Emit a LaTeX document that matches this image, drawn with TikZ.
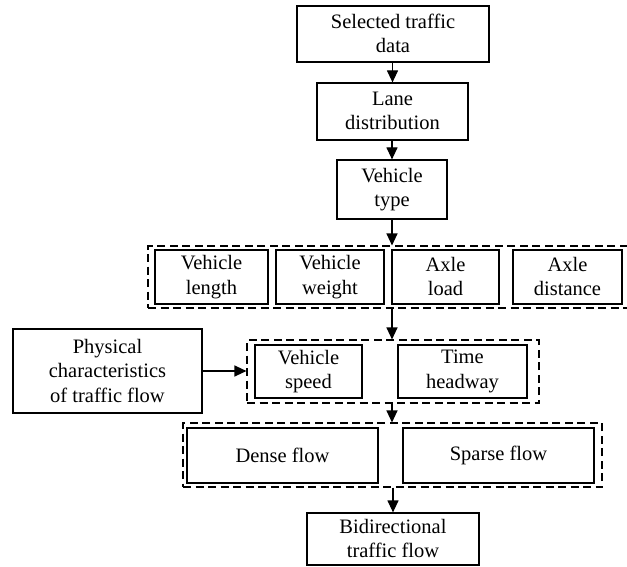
\documentclass[tikz,border=0pt]{standalone}
\usepackage{fontspec}
\setmainfont{Liberation Serif}
\usetikzlibrary{arrows.meta}
\newcommand\mytopstrut{\rule{0pt}{14pt}}
\newcommand\mybotstrut{\rule[-1pt]{0pt}{1pt}}
\tikzset{
  box/.style={draw, line width=1.2pt, rectangle, inner sep=0pt, align=center,
    font=\fontsize{20.5}{24.5}\selectfont,
    execute at begin node=\mytopstrut, execute at end node=\mybotstrut},
  dbox/.style={draw, line width=1.1pt, dash pattern=on 8pt off 4.5pt, rectangle, inner sep=0pt},
  arr/.style={line width=1.2pt, -{Triangle[length=12pt,width=11pt]}}
}
\begin{document}
\begin{tikzpicture}[x=1pt,y=-1pt]
\clip (0,0) rectangle (627,567);
\fill[white] (0,0) rectangle (627,567);
% top chain
\node[box, minimum width=192pt, minimum height=56pt] (b1) at (393,34) {Selected traffic\\data};
\node[box, minimum width=151pt, minimum height=57pt] (b2) at (392.5,111.5) {Lane\\distribution};
\node[box, minimum width=110pt, minimum height=59pt] (b3) at (392,189.5) {Vehicle\\type};
% row 1
\node[dbox, minimum width=490pt, minimum height=62pt] (g1) at (393,277) {};
\node[box, minimum width=113pt, minimum height=54pt] (vl) at (211.5,277) {Vehicle\\length};
\node[box, minimum width=108pt, minimum height=54pt] (vw) at (330,277) {Vehicle\\weight};
\node[box, minimum width=107pt, minimum height=54pt] (al) at (445.5,277) {Axle\\load};
\node[box, minimum width=109pt, minimum height=54pt] (ad) at (567.5,277) {Axle\\distance};
% row 2
\node[box, minimum width=189pt, minimum height=84pt] (ph) at (107.5,371) {Physical\\characteristics\\of traffic flow};
\node[dbox, minimum width=292pt, minimum height=63pt] (g2) at (393,371.5) {};
\node[box, minimum width=107pt, minimum height=53pt] (vs) at (308.5,371.5) {Vehicle\\speed};
\node[box, minimum width=129pt, minimum height=53pt] (th) at (462.5,371.5) {Time\\headway};
% row 3
\node[dbox, minimum width=419pt, minimum height=64pt] (g3) at (392.5,455) {};
\node[box, minimum width=191pt, minimum height=55pt] (df) at (282.5,455.5) {Dense flow};
\node[box, minimum width=191pt, minimum height=55pt] (sf) at (498.5,455.5) {Sparse flow};
% bottom
\node[box, minimum width=172pt, minimum height=52pt] (bd) at (393,539) {Bidirectional\\traffic flow};
% arrows
\draw[arr] (b1.south -| b2.north) -- (b2.north);
\draw[arr] (b2.south -| b3.north) -- (b3.north);
\draw[arr] (b3.south) -- (b3.south |- g1.north);
\draw[arr] (b3.south |- g1.south) -- (b3.south |- g2.north);
\draw[arr] (ph.east) -- (ph.east -| g2.west);
\draw[arr] (b3.south |- g2.south) -- (b3.south |- g3.north);
\draw[arr] (bd.north |- g3.south) -- (bd.north);
\end{tikzpicture}
\end{document}
